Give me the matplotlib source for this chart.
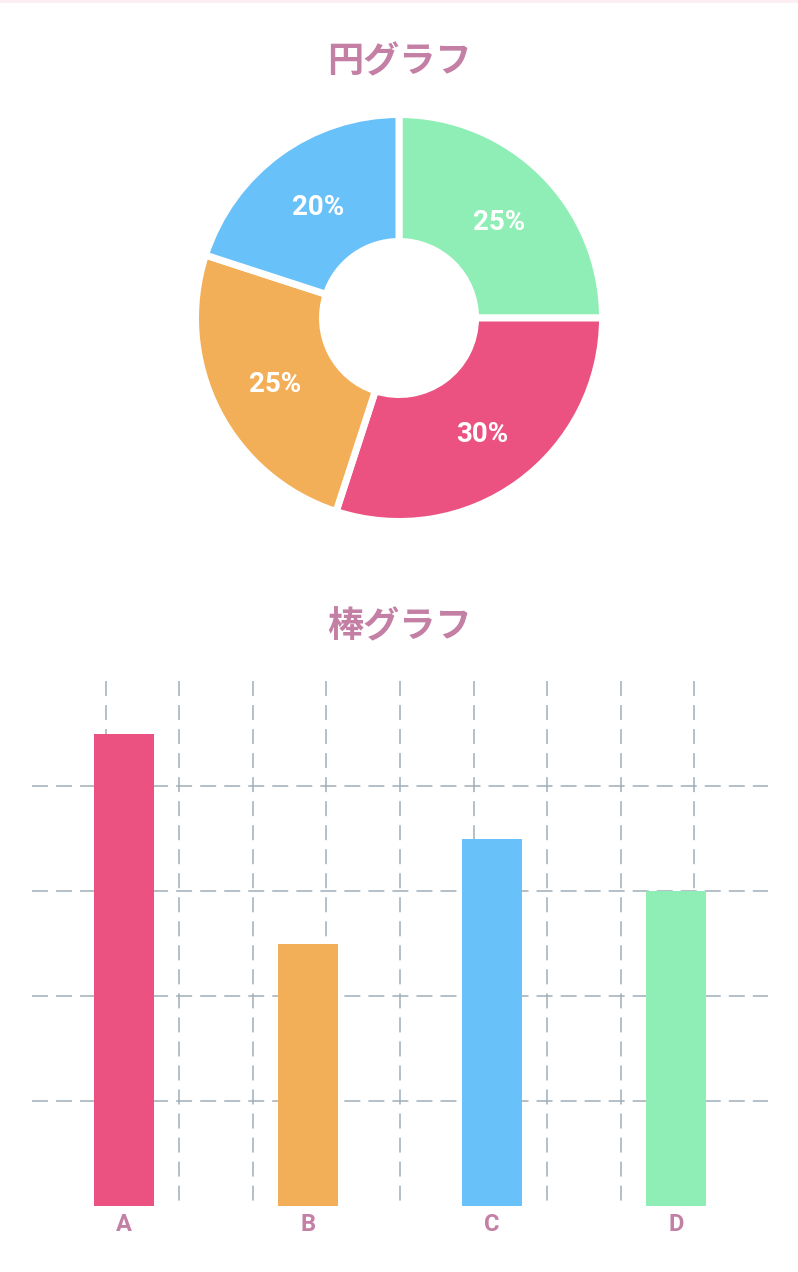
import matplotlib
matplotlib.use("Agg")
import matplotlib.pyplot as plt

plt.rcParams['font.family'] = ['Roboto', 'Noto Sans CJK JP', 'DejaVu Sans']
plt.rcParams['lines.scale_dashes'] = False

# donut data (clockwise from the top)
pie_values = [25, 30, 25, 20]
pie_colors = ['#8EEEB5', '#EB5282', '#F3AF57', '#68C1F9']

# bar data
bar_labels = ['A', 'B', 'C', 'D']
bar_values = [90, 50, 70, 60]
bar_colors = ['#EB5282', '#F3AF57', '#68C1F9', '#8EEEB5']

title_color = '#C47FA5'
grid_color = '#9FAEB8'

W, H = 798, 1272
fig = plt.figure(figsize=(W / 100, H / 100), dpi=100)
fig.patch.set_facecolor('white')

# thin pink strip at the very top
fig.add_artist(plt.Rectangle((0, 1 - 3 / H), 1, 3 / H, transform=fig.transFigure,
                             color='#FCEEF3', lw=0))

fig.text(0.5, 1 - 62 / H, '円グラフ', ha='center', va='center', fontsize=26,
         color=title_color, family=['Noto Sans CJK JP'], weight='bold')
fig.text(0.5, 1 - 627 / H, '棒グラフ', ha='center', va='center', fontsize=26,
         color=title_color, family=['Noto Sans CJK JP'], weight='bold')

# ---- donut: axes in pixel units, center at (399, 318)
top, bot = 101, 535
ax1 = fig.add_axes([0, 1 - bot / H, 1, (bot - top) / H])
gap = 7  # px
r_out = 200 + gap / 2
wedges, texts, autotexts = ax1.pie(
    pie_values, colors=pie_colors, startangle=90, counterclock=False,
    radius=r_out, autopct='%d%%', pctdistance=140 / r_out,
    wedgeprops=dict(width=120 + gap, edgecolor='white', linewidth=gap * 0.72),
    textprops=dict(color='white', fontsize=20, weight='bold'))
for t in autotexts:
    px, py = t.get_position()
    t.set_position((px + 1, py - 3))  # nudge to match ink centre
ax1.set_xlim(-399, 399)
ax1.set_ylim(-(bot - top) / 2, (bot - top) / 2)
ax1.set_aspect('auto')
ax1.axis('off')

# ---- bars
left, right = 32, 768
btop, bbot = 681, 1206
ax2 = fig.add_axes([left / W, 1 - bbot / H, (right - left) / W, (bbot - btop) / H])
x = list(range(len(bar_labels)))
ax2.bar(x, bar_values, width=0.326, color=bar_colors, zorder=3)
ax2.set_xlim(-0.5, 3.5)
ax2.set_ylim(0, 100)

# dashed grid (horizontal starts from the left, vertical from the top)
ax2.hlines([20, 40, 60, 80], -0.5, 3.5, colors=grid_color, linewidth=1.1,
           linestyles=[(0, (11.5, 5.8))], zorder=1)
vx = [-0.5 + 0.4 * k for k in range(1, 10)]
ax2.vlines(vx, 100, 0, colors=grid_color, linewidth=1.1,
           linestyles=[(0, (10.8, 6.5))], zorder=1)

ax2.set_xticks(x, bar_labels)
ax2.set_yticks([])
ax2.tick_params(axis='x', length=0, pad=5, labelsize=17, labelcolor=title_color)
for t in ax2.get_xticklabels():
    t.set_fontweight('bold')
for s in ax2.spines.values():
    s.set_visible(False)

fig.savefig('out.png', dpi=100, facecolor='white')
